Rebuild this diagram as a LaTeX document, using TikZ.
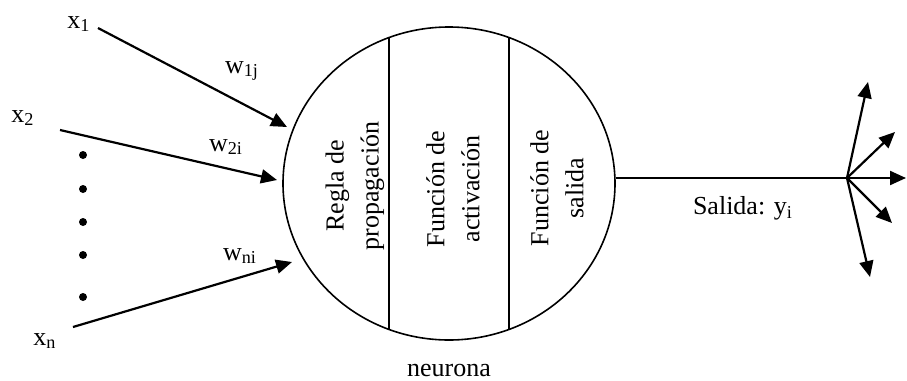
\documentclass[tikz,border=0pt]{standalone}
\usepackage{fontspec}
\setmainfont{Liberation Serif}
\usetikzlibrary{arrows.meta,shapes.geometric}
\tikzset{
  flecha/.style={-{Triangle[length=8pt,width=7pt]}, line width=1.1pt},
  etiq/.style={font=\fontsize{13}{15}\selectfont, inner sep=0pt},
  bloque/.style={rotate=90, align=center, inner sep=0pt, font=\fontsize{13}{17.5}\selectfont},
}

\begin{document}
\begin{tikzpicture}[x=0.5pt,y=-0.5pt]
  \useasboundingbox (0,0) rectangle (907,381);
  % Neurona: elipse con tres bloques
  \node[draw, ellipse, line width=0.8pt, inner sep=0pt,
        minimum width=166pt, minimum height=156.5pt] (neurona) at (449,183.5) {};
  \draw[line width=0.9pt] (389,37.6) -- (389,329.4);
  \draw[line width=0.9pt] (509,37.6) -- (509,329.4);
  \node[bloque] (regla) at (355,186) {Regla de\\propagación};
  \node[bloque] (activ) at (453,189) {Función de\\activación};
  \node[bloque] (fsal) at (557,188) {Función de\\salida};
  \node[etiq] (nombre) at (449,370) {neurona};

  % Entradas
  \node[etiq] (x1) at (79,24) {x\textsubscript{1}};
  \node[etiq] (x2) at (23,118) {x\textsubscript{2}};
  \node[etiq] (xn) at (45,341) {x\textsubscript{n}};
  \coordinate (a1) at (98,28);
  \coordinate (a2) at (60,130);
  \coordinate (an) at (73,327);
  \coordinate (p1) at (287,127);
  \coordinate (p2) at (277,180);
  \coordinate (pn) at (292,262);
  \draw[flecha] (a1) -- (p1);
  \draw[flecha] (a2) -- (p2);
  \draw[flecha] (an) -- (pn);
  \node[etiq] (w1) at (242,71) {w\textsubscript{1j}};
  \node[etiq] (w2) at (226,147) {w\textsubscript{2i}};
  \node[etiq] (wn) at (240,256) {w\textsubscript{ni}};
  \foreach \y in {155,189,222,255,297}
    \fill (83,\y) circle[radius=2pt];

  % Salida
  \coordinate (hub) at (847,178);
  \draw[line width=1.1pt] (neurona.east |- hub) -- (hub);
  \node[etiq] (salida) at (743,208) {Salida: y\textsubscript{i}};
  \coordinate (s1) at (868,82);
  \coordinate (s2) at (895,132);
  \coordinate (s3) at (906,178);
  \coordinate (s4) at (892,223);
  \coordinate (s5) at (870,277);
  \foreach \s in {s1,s2,s3,s4,s5}
    \draw[flecha] (hub) -- (\s);
\end{tikzpicture}
\end{document}
